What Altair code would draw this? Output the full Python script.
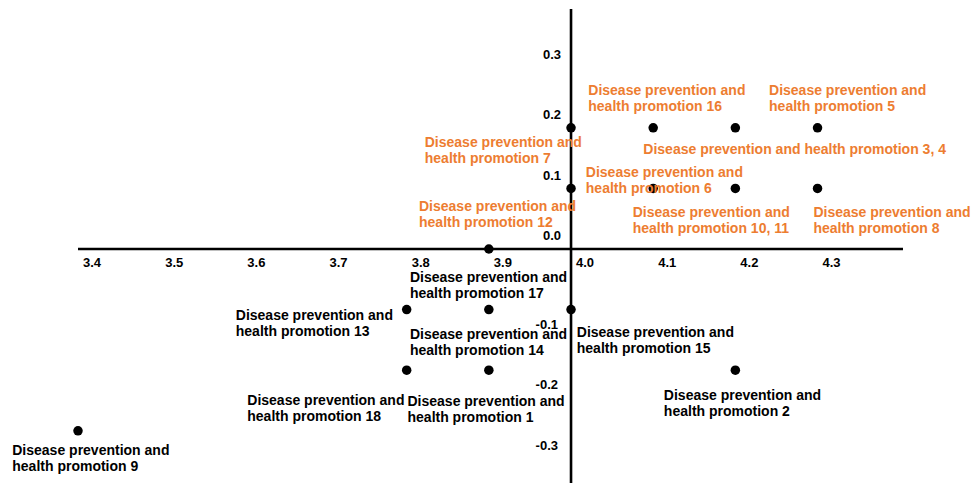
import altair as alt
import pandas as pd

# Points (x = score, y = coordinate)
pt_x = [4.0, 4.1, 4.2, 4.3, 4.0, 4.1, 4.2, 4.3, 3.9, 3.8, 3.9, 4.0, 3.8, 3.9, 4.2, 3.4]
pt_y = [0.2, 0.2, 0.2, 0.2, 0.1, 0.1, 0.1, 0.1, 0.0, -0.1, -0.1, -0.1, -0.2, -0.2, -0.2, -0.3]

# Annotation labels (text, anchor position in data units, group)
lab_text = [
    "Disease prevention and\nhealth promotion 16",
    "Disease prevention and\nhealth promotion 5",
    "Disease prevention and health promotion 3, 4",
    "Disease prevention and\nhealth promotion 7",
    "Disease prevention and\nhealth promotion 6",
    "Disease prevention and\nhealth promotion 12",
    "Disease prevention and\nhealth promotion 10, 11",
    "Disease prevention and\nhealth promotion 8",
    "Disease prevention and\nhealth promotion 17",
    "Disease prevention and\nhealth promotion 13",
    "Disease prevention and\nhealth promotion 14",
    "Disease prevention and\nhealth promotion 15",
    "Disease prevention and\nhealth promotion 18",
    "Disease prevention and\nhealth promotion 1",
    "Disease prevention and\nhealth promotion 2",
    "Disease prevention and\nhealth promotion 9",
]
lab_x = [4.021, 4.241, 4.088, 3.822, 4.018, 3.815, 4.075, 4.295,
         3.804, 3.592, 3.804, 4.007, 3.606, 3.801, 4.113, 3.320]
lab_y = [0.254, 0.254, 0.157, 0.168, 0.119, 0.063, 0.053, 0.053,
         -0.054, -0.117, -0.148, -0.146, -0.257, -0.259, -0.250, -0.340]
lab_group = ["upper"] * 8 + ["lower"] * 8

# Tick labels
x_ticks = [3.4, 3.5, 3.6, 3.7, 3.8, 3.9, 4.0, 4.1, 4.2, 4.3]
y_ticks_pos = [0.3, 0.2, 0.1, 0.0]
y_ticks_neg = [-0.1, -0.2, -0.3]

ORANGE = "#ED7D31"
FONT = "Liberation Sans"

xs = alt.Scale(domain=[3.31481, 4.48677], nice=False, zero=False)
ys = alt.Scale(domain=[-0.38614, 0.39769], nice=False, zero=False)

pts = pd.DataFrame({"x": pt_x, "y": pt_y})
labs = pd.DataFrame({"x": lab_x, "y": lab_y, "text": lab_text, "g": lab_group})
xt = pd.DataFrame({"x": x_ticks, "y": [0.0] * len(x_ticks),
                   "t": [f"{v:.1f}" for v in x_ticks]})
ytp = pd.DataFrame({"x": [4.0] * len(y_ticks_pos), "y": y_ticks_pos,
                    "t": [f"{v:.1f}" for v in y_ticks_pos]})
ytn = pd.DataFrame({"x": [4.0] * len(y_ticks_neg), "y": y_ticks_neg,
                    "t": [f"{v:.1f}" for v in y_ticks_neg]})

X = lambda f="x": alt.X(f, type="quantitative", scale=xs, axis=None)
Y = lambda f="y": alt.Y(f, type="quantitative", scale=ys, axis=None)

hline = alt.Chart(pd.DataFrame({"x": [3.4], "x2": [4.404], "y": [0.0]})).mark_rule(
    color="black", strokeWidth=2.6
).encode(x=X(), x2="x2", y=Y())

vline = alt.Chart(pd.DataFrame({"x": [4.0], "y": [-0.3861], "y2": [0.396]})).mark_rule(
    color="black", strokeWidth=2.6
).encode(x=X(), y=Y(), y2="y2")

points = alt.Chart(pts).mark_circle(size=90, color="black", opacity=1).encode(
    x=X(), y=Y()
)

labels = alt.Chart(labs).mark_text(
    align="left", baseline="alphabetic", font=FONT, fontSize=14,
    fontWeight="bold", lineBreak="\n", lineHeight=16
).encode(
    x=X(), y=Y(), text="text:N",
    color=alt.Color("g:N", scale=alt.Scale(domain=["upper", "lower"],
                                           range=[ORANGE, "black"]), legend=None)
)

xtl = alt.Chart(xt).mark_text(
    align="left", baseline="alphabetic", dx=5, dy=18.5,
    font=FONT, fontSize=13, fontWeight="bold", color="black"
).encode(x=X(), y=Y(), text="t:N")

ytl_p = alt.Chart(ytp).mark_text(
    align="right", baseline="alphabetic", dx=-10, dy=-8.5,
    font=FONT, fontSize=13, fontWeight="bold", color="black"
).encode(x=X(), y=Y(), text="t:N")

ytl_n = alt.Chart(ytn).mark_text(
    align="right", baseline="alphabetic", dx=-13, dy=19,
    font=FONT, fontSize=13, fontWeight="bold", color="black"
).encode(x=X(), y=Y(), text="t:N")

chart = alt.layer(hline, vline, points, labels, xtl, ytl_p, ytl_n).properties(
    width=963, height=475,
    autosize=alt.AutoSizeParams(type="none"),
    padding=0,
).configure_view(stroke=None)

chart.save("out.html", embed_options={"renderer": "svg", "actions": False})
